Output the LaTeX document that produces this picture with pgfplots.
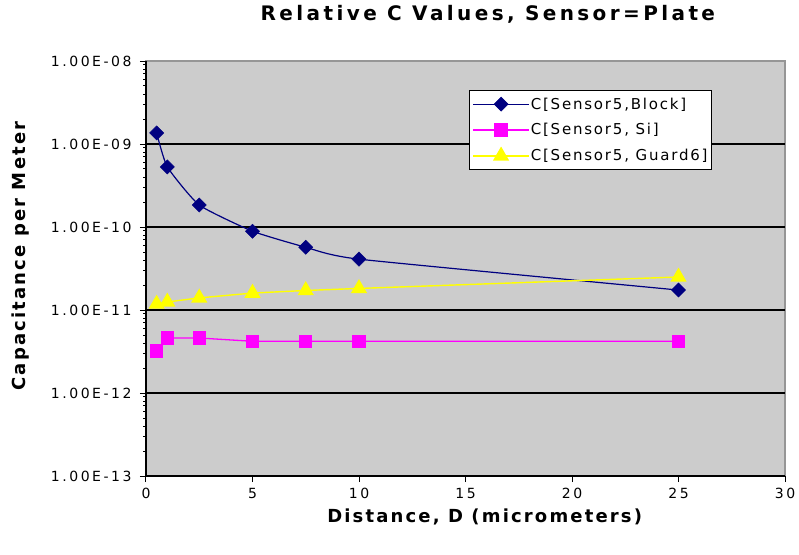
\documentclass[border=0pt]{standalone}
\usepackage{fontspec}
\setmainfont{DejaVu Sans}
\newfontfamily\tickfont[LetterSpace=18]{DejaVu Sans}
\newfontfamily\titlefont[LetterSpace=17]{DejaVu Sans Bold}
\newfontfamily\labfont[LetterSpace=12]{DejaVu Sans Bold}
\newfontfamily\legfont[LetterSpace=12]{DejaVu Sans}
\usepackage{pgfplots}
\pgfplotsset{compat=1.18}
\definecolor{plotbg}{RGB}{204,204,204}
\definecolor{navyb}{RGB}{0,0,128}
\definecolor{magp}{RGB}{255,0,255}
\definecolor{yel}{RGB}{255,255,0}
\definecolor{bordergray}{RGB}{150,150,150}
\begin{document}
\begin{tikzpicture}[x=1pt,y=1pt]
\begin{axis}[
  at={(0,0)}, anchor=south west,
  scale only axis,
  width=639pt, height=415pt,
  xmin=0, xmax=30,
  ymode=log, ymin=1e-13, ymax=1e-8,
  xtick={0,5,...,30},
  ytick={1e-13,1e-12,1e-11,1e-10,1e-9,1e-8},
  yticklabels={1.00E-13,1.00E-12,1.00E-11,1.00E-10,1.00E-09,1.00E-08},
  extra y ticks={1e-12,1e-11,1e-10,1e-9},
  extra y tick labels={},
  extra y tick style={grid=major, major tick length=0pt},
  major grid style={black, line width=1.3pt},
  minor ytick={},
  axis background/.style={fill=plotbg, draw=bordergray, line width=1.2pt},
  axis line style={black, line width=1.2pt},
  axis x line*=bottom, axis y line*=left,
  tick style={black, line width=1pt},
  tick align=outside,
  major tick length=6pt,
  ticklabel style={font=\tickfont\fontsize{14}{16}\selectfont},
  yticklabel style={xshift=-5pt},
  xticklabel style={yshift=-3pt},
  /pgf/number format/assume math mode=true,
  xlabel={Distance, D (micrometers)},
  ylabel={Capacitance per Meter},
  xlabel style={font=\labfont\fontsize{18}{20}\selectfont, at={(axis description cs:0.530,-0.099)}, anchor=center},
  ylabel style={font=\labfont\fontsize{18}{20}\selectfont, at={(axis description cs:-0.196,0.530)}, anchor=center, rotate=0},
  title={Relative C Values, Sensor=Plate},
  title style={font=\titlefont\fontsize{20}{22}\selectfont, at={(axis description cs:0.535,1.099)}, anchor=center},
  legend style={at={(0.886,0.930)}, anchor=north east, draw=black, line width=1.2pt, fill=white,
    font=\legfont\fontsize{15}{17}\selectfont, row sep=9pt, inner xsep=3pt, inner ysep=5pt,
    nodes={inner xsep=1pt}},
  legend cell align=left,
  legend image code/.code={%
    \draw[mark repeat=2,mark phase=2] plot coordinates {(0pt,0pt) (28pt,0pt) (56pt,0pt)};},
]
\addplot[color=navyb, line width=1.2pt, smooth, tension=0.3, mark=square*, mark size=5pt, mark options={fill=navyb, solid, rotate=45, line width=0.5pt}]
coordinates {(0.5,1.36e-9) (1,5.3e-10) (2.5,1.84e-10) (5,8.9e-11) (7.5,5.7e-11) (10,4.1e-11) (25,1.74e-11)};
\addlegendentry{C[Sensor5,Block]}
\addplot[color=magp, line width=1.3pt, mark=square*, mark size=6pt, mark options={fill=magp, solid}]
coordinates {(0.5,3.2e-12) (1,4.6e-12) (2.5,4.6e-12) (5,4.2e-12) (7.5,4.2e-12) (10,4.2e-12) (25,4.2e-12)};
\addlegendentry{C[Sensor5, Si]}
\addplot[color=yel, line width=1.4pt, mark=triangle*, mark size=8pt, mark options={fill=yel, solid}]
coordinates {(0.5,1.18e-11) (1,1.25e-11) (2.5,1.4e-11) (5,1.6e-11) (7.5,1.72e-11) (10,1.82e-11) (25,2.5e-11)};
\addlegendentry{C[Sensor5, Guard6]}
\end{axis}
\pgfresetboundingbox
\path[use as bounding box] (-146,-78) rectangle (653,476);
\end{tikzpicture}
\end{document}
